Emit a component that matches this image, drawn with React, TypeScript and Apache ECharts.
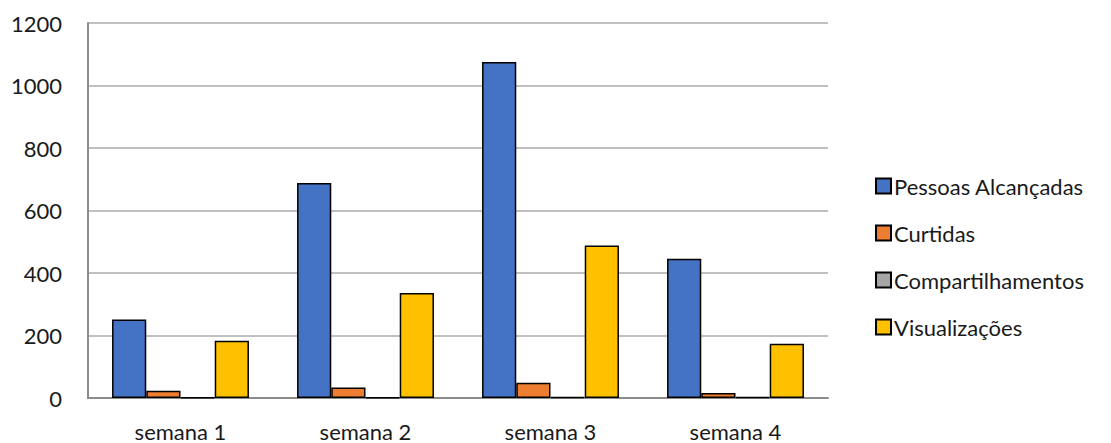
import React, { useEffect, useRef } from "react";
import * as echarts from "echarts";

const categories = ["semana 1", "semana 2", "semana 3", "semana 4"];
const pessoas = [251, 688, 1075, 446];
const curtidas = [23, 34, 49, 16];
const compartilhamentos = [1, 2, 3, 3];
const visualizacoes = [183, 336, 488, 174];
const seriesNames = ["Pessoas Alcançadas", "Curtidas", "Compartilhamentos", "Visualizações"];
const colors = ["#4472c4", "#ed7d31", "#a5a5a5", "#ffc000"];

export default function App() {
  const ref = useRef<HTMLDivElement>(null);
  useEffect(() => {
    const chart = echarts.init(ref.current!, null, { renderer: "svg" });
    const data = [pessoas, curtidas, compartilhamentos, visualizacoes];
    chart.setOption({
      animation: false,
      textStyle: { fontFamily: "Lato, 'Open Sans', sans-serif" },
      grid: { left: 88, right: 283, top: 23, bottom: 45, containLabel: false },
      legend: {
        orient: "vertical",
        left: 870,
        top: 170,
        itemWidth: 15,
        itemHeight: 15,
        itemGap: 25,
        icon: "rect",
        textStyle: { fontSize: 22, lineHeight: 22, color: "#1a1a1a", fontFamily: "Lato, sans-serif", padding: [0, 0, 0, -2] },
        data: seriesNames,
      },
      xAxis: {
        type: "category",
        data: categories,
        axisLine: { lineStyle: { color: "#8c8c8c", width: 2 } },
        axisTick: { show: false },
        axisLabel: { fontSize: 22, lineHeight: 22, color: "#1a1a1a", margin: 22 },
      },
      yAxis: {
        type: "value",
        min: 0,
        max: 1200,
        interval: 200,
        axisLine: { show: true, lineStyle: { color: "#8c8c8c", width: 2 } },
        axisTick: { show: false },
        splitLine: { lineStyle: { color: "#c0c0c0", width: 2 } },
        axisLabel: { fontSize: 22, color: "#1a1a1a", margin: 26, formatter: (v: number) => String(v) },
      },
      series: seriesNames.map((name, i) => ({
        name,
        type: "bar",
        data: data[i],
        barGap: "0%",
        barCategoryGap: "26%",
        itemStyle: { color: colors[i], borderColor: "#000", borderWidth: 1.5 },
      })),
    });
    return () => chart.dispose();
  }, []);
  return <div ref={ref} style={{ width: 1111, height: 443, position: "absolute", left: 0, top: 0 }} />;
}
